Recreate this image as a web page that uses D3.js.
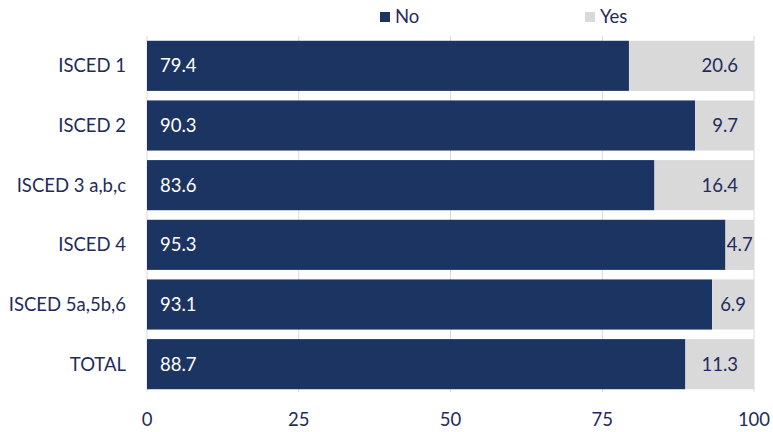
<!DOCTYPE html>
<html><head><meta charset="utf-8">
<script src="https://cdn.jsdelivr.net/npm/d3@7"></script>
<style>body{margin:0;background:#fff}svg{display:block}</style>
</head><body>
<script>
const categories = ["ISCED 1","ISCED 2","ISCED 3 a,b,c","ISCED 4","ISCED 5a,5b,6","TOTAL"];
const noValues = [79.4, 90.3, 83.6, 95.3, 93.1, 88.7];
const yesValues = [20.6, 9.7, 16.4, 4.7, 6.9, 11.3];
const seriesNames = ["No","Yes"];
const tickValues = [0,25,50,75,100];

const W=773,H=432;
const m={l:147,r:19,t:36,b:38};
const navy="#1c3461", gray="#d9d9d9", txt="#1f2b5b";
const font="Lato, 'Open Sans', sans-serif";
const fs=18.5;
const svg=d3.select("body").append("svg").attr("width",W).attr("height",H).style("font-family",font);
const x=d3.scaleLinear().domain([0,100]).range([m.l,W-m.r]);
const y=d3.scaleBand().domain(categories).range([m.t,H-m.b]).paddingInner(0.16).paddingOuter(0.08);

// gridlines
svg.append("g").selectAll("line").data(tickValues).join("line")
 .attr("x1",d=>x(d)).attr("x2",d=>x(d)).attr("y1",m.t).attr("y2",H-m.b-2)
 .attr("stroke","#d9d9d9").attr("stroke-width",1);

const data=categories.map((c,i)=>({c,no:noValues[i],yes:yesValues[i]}));
const g=svg.append("g");
g.selectAll("rect.no").data(data).join("rect").attr("class","no")
 .attr("x",x(0)).attr("y",d=>y(d.c)).attr("width",d=>x(d.no)-x(0)).attr("height",y.bandwidth()).attr("fill",navy);
g.selectAll("rect.yes").data(data).join("rect").attr("class","yes")
 .attr("x",d=>x(d.no)).attr("y",d=>y(d.c)).attr("width",d=>x(d.no+d.yes)-x(d.no)).attr("height",y.bandwidth()).attr("fill",gray);

g.selectAll("text.no").data(data).join("text").attr("class","no")
 .attr("x",x(0)+13).attr("y",d=>y(d.c)+y.bandwidth()/2).attr("dy","0.35em")
 .attr("fill","#fff").attr("font-size",fs).text(d=>d.no.toFixed(1));
g.selectAll("text.yes").data(data).join("text").attr("class","yes")
 .attr("y",d=>y(d.c)+y.bandwidth()/2).attr("dy","0.35em")
 .attr("fill",txt).attr("font-size",fs).attr("text-anchor","end").text(d=>d.yes.toFixed(1))
 .each(function(d){
   const tw=this.getComputedTextLength();
   const x0=x(d.no), x1=x(d.no+d.yes), pad=16;
   let xe = x1-pad;
   if (tw+2*pad > x1-x0) xe=(x0+x1)/2+tw/2;
   d3.select(this).attr("x",xe);
 });

// category axis labels
svg.append("g").selectAll("text").data(categories).join("text")
 .attr("x",m.l-21).attr("y",d=>y(d)+y.bandwidth()/2).attr("dy","0.35em")
 .attr("text-anchor","end").attr("fill",txt).attr("font-size",fs).text(d=>d);

// x tick labels
svg.append("g").selectAll("text").data(tickValues).join("text")
 .attr("x",d=>x(d)).attr("y",420).attr("dy","0.35em").attr("text-anchor","middle")
 .attr("fill",txt).attr("font-size",fs).text(d=>d);

// legend
const leg=[{n:seriesNames[0],c:navy,x:380},{n:seriesNames[1],c:gray,x:585}];
const lg=svg.append("g").selectAll("g").data(leg).join("g").attr("transform",d=>`translate(${d.x},0)`);
lg.append("rect").attr("x",0).attr("y",12).attr("width",10).attr("height",10).attr("fill",d=>d.c);
lg.append("text").attr("x",15).attr("y",17).attr("dy","0.35em").attr("fill",txt).attr("font-size",fs).text(d=>d.n);
</script>
</body></html>
